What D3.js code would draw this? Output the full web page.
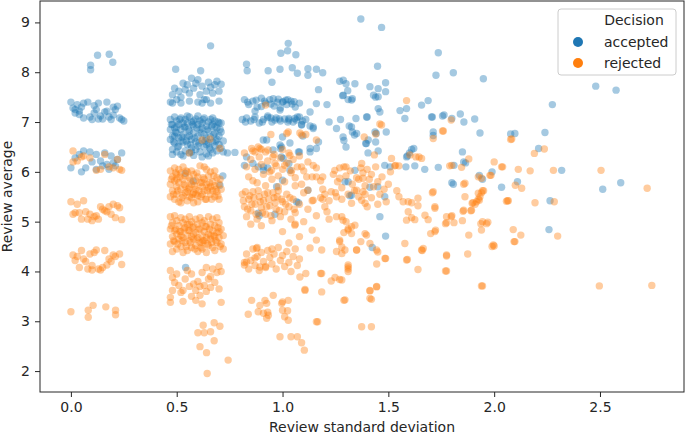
<!DOCTYPE html>
<html>
<head>
<meta charset="utf-8">
<script src="https://cdn.jsdelivr.net/npm/d3@7"></script>
<style>
  body { margin: 0; background: #fff; }
  svg { font-family: "DejaVu Sans", sans-serif; }
</style>
</head>
<body>
<script>
// chart size and plot frame
const w = 685;
const h = 434;
const marginTop = 1;
const marginRight = 1;
const marginBottom = 42;
const marginLeft = 40;

const decisions = ["accepted", "rejected"];
const colors = ["#1f77b4", "#ff7f0e"];
const xTicks = [0.0, 0.5, 1.0, 1.5, 2.0, 2.5];
const yTicks = [2, 3, 4, 5, 6, 7, 8, 9];

// [review std, review average]
const acc0 = [
  [0.126,8.34],[0.181,8.36],[0.198,8.2],[0.093,8.14],[0.093,8.05],
  [0.00,7.40],[0.01,7.28],[0.02,7.25],[0.03,7.35],[0.04,7.22],[0.05,7.30],[0.06,7.38],[0.04,7.15],
  [0.08,7.40],[0.09,7.10],[0.10,7.05],[0.11,7.33],[0.12,7.25],[0.13,7.38],[0.14,7.12],[0.15,7.06],
  [0.16,7.20],[0.17,7.40],[0.18,7.10],[0.19,7.05],[0.20,7.30],[0.21,7.25],[0.22,7.32],[0.23,7.08],
  [0.24,7.05],[0.25,7.02],[0.06,7.08],[0.02,7.18],[0.13,7.06],[0.20,7.14],[0.11,7.18],[0.17,7.22],
  [0.00,6.08],[0.02,6.28],[0.04,6.35],[0.06,6.42],[0.07,6.08],[0.09,6.40],[0.10,6.20],[0.12,6.05],
  [0.14,6.22],[0.15,6.12],[0.16,6.38],[0.18,6.05],[0.19,6.32],[0.20,6.18],[0.21,6.12],[0.22,6.25],
  [0.24,6.38],[0.12,6.35],[0.05,6.00],[0.17,6.15]
];
const acc05 = [
  [0.495,8.06],[0.613,8.03],[0.66,8.53],
  [0.47,7.40],[0.48,7.55],[0.49,7.68],[0.50,7.45],[0.51,7.62],[0.52,7.38],[0.53,7.78],[0.54,7.65],
  [0.55,7.75],[0.56,7.42],[0.57,7.88],[0.58,7.68],[0.59,7.78],[0.60,7.40],[0.61,7.55],[0.62,7.72],
  [0.63,7.45],[0.64,7.62],[0.65,7.80],[0.66,7.38],[0.67,7.58],[0.68,7.75],[0.69,7.82],[0.70,7.42],
  [0.71,7.76],[0.56,7.58],[0.60,7.85],[0.66,7.70],[0.70,7.62],[0.52,7.50],[0.48,7.38],[0.62,7.38],[0.64,7.45],
  [0.47,7.05],[0.47,6.85],[0.47,6.65],[0.48,6.95],[0.48,6.72],[0.48,6.45],[0.49,7.10],[0.49,6.88],
  [0.49,6.58],[0.50,7.02],[0.50,6.78],[0.50,6.40],[0.51,6.95],[0.51,6.68],[0.51,6.52],[0.52,7.08],
  [0.52,6.85],[0.52,6.35],[0.53,6.98],[0.53,6.75],[0.53,6.60],[0.54,7.05],[0.54,6.90],[0.54,6.42],
  [0.55,6.98],[0.55,6.70],[0.55,6.55],[0.56,7.10],[0.56,6.82],[0.56,6.38],[0.57,7.00],[0.57,6.65],
  [0.57,6.48],[0.58,6.92],[0.58,6.78],[0.58,6.33],[0.59,7.06],[0.59,6.60],[0.59,6.45],[0.60,6.95],
  [0.60,6.72],[0.60,6.52],[0.61,7.02],[0.61,6.85],[0.61,6.40],[0.62,6.98],[0.62,6.62],[0.62,6.30],
  [0.63,7.08],[0.63,6.75],[0.63,6.50],[0.64,6.92],[0.64,6.68],[0.64,6.36],[0.65,7.00],[0.65,6.82],
  [0.65,6.58],[0.66,7.05],[0.66,6.70],[0.66,6.45],[0.67,6.95],[0.67,6.60],[0.67,6.38],[0.68,7.02],
  [0.68,6.78],[0.68,6.52],[0.69,6.88],[0.69,6.65],[0.69,6.42],[0.70,6.98],[0.70,6.72],[0.70,6.55],
  [0.71,6.80],[0.71,6.48],[0.72,6.62],[0.72,6.40],[0.74,6.38],[0.775,6.39],
  [0.475,6.95],[0.485,6.60],[0.495,6.80],[0.505,6.50],[0.515,7.05],[0.525,6.70],[0.535,6.90],[0.545,6.62],
  [0.555,6.85],[0.565,6.55],[0.575,6.95],[0.585,6.68],[0.595,6.88],[0.605,6.58],[0.615,6.78],[0.625,7.05],
  [0.635,6.62],[0.645,6.85],[0.655,6.48],[0.665,6.92],[0.675,6.75],[0.685,6.62],[0.695,7.00],[0.705,6.85],
  [0.48,6.35],[0.53,6.32],[0.57,6.40],[0.65,6.32],[0.60,7.12],[0.55,7.12],[0.50,6.90],[0.58,7.02],
  [0.62,6.88],[0.67,7.08],[0.52,6.62],[0.64,6.55],[0.56,6.72],[0.68,6.90],[0.71,6.98],[0.49,6.72],
  [0.718,5.92],[0.704,5.73],[0.54,5.97],[0.578,5.81],[0.542,4.08]
];
const acc1 = [
  [1.027,8.58],[0.992,8.38],[1.024,8.43],[1.063,8.35],[0.932,8.03],[0.988,8.06],[1.046,8.09],[1.07,7.98],
  [1.12,8.07],[1.16,8.06],[1.19,7.99],[1.12,7.94],[0.95,7.80],[1.17,7.65],[1.16,7.37],[0.83,8.16],[0.833,8.03],
  [0.82,7.45],[0.84,7.35],[0.86,7.42],[0.88,7.30],[0.90,7.48],[0.92,7.38],[0.94,7.45],[0.96,7.32],
  [0.98,7.46],[1.00,7.40],[1.02,7.35],[1.04,7.42],[1.06,7.30],[1.08,7.38],[0.99,7.28],
  [0.81,7.05],[0.83,7.08],[0.85,7.02],[0.87,7.10],[0.89,6.98],[0.91,7.05],[0.93,7.12],[0.95,7.00],
  [0.97,7.08],[0.99,7.02],[1.01,7.06],[1.03,7.04],[1.05,7.00],[1.07,7.10],[1.09,6.95],[1.11,7.05],[1.13,6.92],
  [0.90,7.31],[0.87,7.22],[0.956,7.47],[1.003,7.41],[1.055,7.41],[1.058,7.07],[1.03,7.07],[1.08,7.1],
  [0.988,7.24],[0.964,7.04],[0.93,7.09],[1.09,6.94],[1.145,6.87],[1.13,7.2],[0.909,6.64],[0.988,6.54],
  [0.99,6.47],[1.13,6.47],[1.16,6.47],[1.075,6.4],[1.003,6.27],[0.885,6.1],[0.91,6.1],[0.93,6.08],
  [0.972,5.7],[1.066,5.4],
  [0.835,7.40],[0.875,7.44],[0.915,7.42],[0.945,7.36],[0.975,7.40],[1.015,7.44],[1.045,7.36],[1.025,7.45],
  [0.825,7.00],[0.865,7.05],[0.905,7.00],[0.945,7.08],[0.985,7.06],[1.025,7.00],[1.065,7.04],[1.095,7.02],
  [1.096,6.72],[1.13,6.4],[1.035,6.58],[0.995,6.5],[1.0,6.7],[0.955,6.44],[0.925,6.64],[0.83,6.3],
  [0.86,6.17],[0.82,6.13],[0.91,6.03],[0.995,6.3],[1.03,6.17],[1.035,6.03],[1.08,6.4],[1.145,6.9],[1.17,6.6],
  [1.075,5.38],[1.12,5.63],[1.0,5.83],[0.885,5.17],[0.89,5.12],[0.964,5.15]
];
const accWide = [
  [1.37,9.07],[1.468,8.9],[1.449,8.12],[1.736,8.39],[1.725,7.94],[1.807,7.99],[1.949,7.87],[2.48,7.72],
  [2.576,7.64],[2.275,7.35],
  [1.413,7.71],[1.452,7.67],[1.487,7.79],[1.487,7.61],[1.43,7.54],[1.452,7.51],[1.452,7.27],[1.46,7.2],
  [1.40,7.1],[1.586,7.27],[1.578,7.07],[1.657,7.34],[1.688,7.43],[1.704,7.1],[1.763,7.14],[1.84,7.16],
  [1.857,7.0],[1.908,7.06],[1.933,6.78],[2.078,6.76],[2.098,6.77],[2.24,6.79],[1.712,6.8],[1.712,6.73],
  [1.437,6.8],[1.49,6.8],[1.44,6.6],[1.396,6.57],[1.452,6.42],[1.61,6.45],[1.59,6.32],[1.85,6.4],
  [1.856,6.2],[1.483,6.13],[1.583,6.1],[1.625,6.12],[1.672,6.05],[1.736,6.09],[1.81,6.13],[1.865,6.18],
  [1.93,5.93],[1.945,5.85],[1.99,6.0],[2.035,5.69],[2.11,5.8],[2.21,6.47],[2.319,6.03],[2.598,5.78],
  [2.513,5.65],[2.264,5.42],[2.259,4.84],[1.807,5.75],[1.413,5.69],[1.45,5.7],[1.483,5.5],[1.46,5.1],
  [1.487,4.71],[1.424,4.48],
  [1.27,7.82],[1.30,7.77],[1.342,7.77],[1.308,7.63],[1.284,7.53],[1.31,7.45],[1.33,7.47],[1.44,7.5],
  [1.274,7.05],[1.315,6.92],[1.347,7.07],[1.397,7.1],[1.255,6.87],[1.286,6.7],[1.30,6.5],[1.29,6.63],
  [1.33,6.8],[1.34,6.74],[1.393,6.57],[1.404,6.38],[1.443,6.77],[1.586,6.3],[1.60,6.38],[1.62,6.47],
  [1.555,7.23],[1.708,7.1],[1.756,7.12],[1.80,7.07],[1.508,6.1],[1.80,5.78],[1.31,5.8],[1.318,5.52],
  [1.342,6.03],[1.295,5.8],[1.287,7.84],[1.287,7.54],[1.326,7.44],[1.326,6.9],[1.35,6.77],[1.405,6.64],
  [1.326,5.53],[1.22,7.0],[1.21,7.35]
];

const rej0 = [
  [0.01,6.42],[0.01,6.20],[0.03,6.22],[0.05,6.30],[0.06,6.32],[0.09,6.28],[0.12,6.03],[0.14,6.05],
  [0.16,6.35],[0.18,6.10],[0.20,6.08],[0.22,6.25],[0.23,6.05],[0.24,6.03],
  [0.00,5.40],[0.02,5.18],[0.03,5.35],[0.04,5.18],[0.05,5.05],[0.06,5.42],[0.07,5.20],[0.08,5.05],
  [0.09,5.15],[0.10,5.02],[0.11,5.10],[0.12,5.12],[0.14,5.30],[0.15,5.25],[0.16,5.22],[0.17,5.20],
  [0.18,5.30],[0.19,5.15],[0.20,5.35],[0.21,5.08],[0.22,5.32],[0.23,5.28],[0.24,5.04],[0.13,5.05],[0.01,5.15],
  [0.01,4.33],[0.03,4.30],[0.04,4.08],[0.05,4.42],[0.06,4.25],[0.07,4.20],[0.08,4.05],[0.09,4.35],
  [0.10,4.12],[0.10,4.03],[0.11,4.38],[0.12,4.43],[0.13,4.05],[0.14,4.03],[0.16,4.42],[0.17,4.13],
  [0.18,4.25],[0.19,4.20],[0.20,4.33],[0.21,4.30],[0.23,4.35],[0.24,4.14],[0.02,4.22],[0.15,4.08],
  [0.0,3.19],[0.082,3.22],[0.082,3.08],[0.105,3.32],[0.165,3.29],[0.211,3.22],[0.211,3.13]
];
const rej05 = [
  [0.657,6.66],[0.704,6.47],[0.62,6.64],[0.56,6.38],
  [0.47,6.02],[0.47,5.75],[0.47,5.50],[0.48,5.90],[0.48,5.62],[0.49,6.08],[0.49,5.82],[0.49,5.45],
  [0.50,5.95],[0.50,5.70],[0.50,5.55],[0.51,6.05],[0.51,5.78],[0.51,5.40],[0.52,5.98],[0.52,5.65],
  [0.53,6.10],[0.53,5.85],[0.53,5.52],[0.54,5.92],[0.54,5.72],[0.55,6.00],[0.55,5.60],[0.55,5.42],
  [0.56,5.88],[0.56,5.68],[0.57,6.02],[0.57,5.75],[0.57,5.48],[0.58,5.95],[0.58,5.58],[0.59,5.82],
  [0.59,5.65],[0.60,5.90],[0.60,5.52],[0.60,5.40],[0.61,6.12],[0.61,5.78],[0.62,5.70],[0.62,5.55],
  [0.63,5.85],[0.63,5.62],[0.64,6.05],[0.64,5.75],[0.64,5.45],[0.65,5.92],[0.65,5.68],[0.66,6.00],
  [0.66,5.55],[0.67,5.80],[0.67,5.62],[0.68,5.72],[0.68,5.50],[0.69,5.88],[0.69,5.60],[0.70,5.75],
  [0.70,5.45],[0.71,5.65],[0.63,6.10],[0.68,6.02],[0.52,5.38],[0.58,5.38],
  [0.475,5.85],[0.485,5.55],[0.495,5.98],[0.505,5.62],[0.515,5.90],[0.525,5.48],[0.535,5.75],[0.545,6.02],
  [0.555,5.65],[0.565,5.82],[0.575,5.55],[0.585,5.72],[0.595,5.98],[0.605,5.62],[0.615,5.50],[0.625,5.88],
  [0.635,5.45],[0.645,5.62],[0.655,5.78],[0.665,5.45],[0.675,5.92],[0.685,5.65],[0.695,5.52],[0.705,5.85],
  [0.50,5.85],[0.56,5.50],[0.62,5.78],[0.66,5.70],[0.54,5.58],[0.59,5.55],
  [0.47,5.10],[0.47,4.85],[0.47,4.55],[0.48,4.98],[0.48,4.70],[0.48,4.40],[0.49,5.12],[0.49,4.82],
  [0.49,4.60],[0.50,5.02],[0.50,4.75],[0.50,4.45],[0.51,4.92],[0.51,4.65],[0.52,5.08],[0.52,4.80],
  [0.52,4.50],[0.53,4.98],[0.53,4.68],[0.53,4.38],[0.54,5.05],[0.54,4.88],[0.54,4.58],[0.55,4.95],
  [0.55,4.72],[0.55,4.42],[0.56,5.10],[0.56,4.82],[0.56,4.62],[0.57,5.00],[0.57,4.70],[0.57,4.48],
  [0.58,4.90],[0.58,4.65],[0.59,5.05],[0.59,4.78],[0.59,4.52],[0.60,4.95],[0.60,4.68],[0.60,4.40],
  [0.61,5.08],[0.61,4.85],[0.61,4.58],[0.62,4.98],[0.62,4.72],[0.62,4.45],[0.63,5.02],[0.63,4.80],
  [0.63,4.62],[0.64,4.90],[0.64,4.68],[0.64,4.38],[0.65,5.10],[0.65,4.75],[0.65,4.52],[0.66,4.95],
  [0.66,4.65],[0.67,5.05],[0.67,4.82],[0.67,4.48],[0.68,4.92],[0.68,4.70],[0.68,4.42],[0.69,5.08],
  [0.69,4.78],[0.69,4.58],[0.70,4.98],[0.70,4.68],[0.71,4.85],[0.71,4.55],[0.72,4.72],[0.72,4.45],
  [0.475,4.92],[0.485,4.62],[0.495,4.85],[0.505,4.55],[0.515,4.80],[0.525,4.62],[0.535,4.85],[0.545,4.50],
  [0.555,4.82],[0.565,4.58],[0.575,4.88],[0.585,4.45],[0.595,4.65],[0.605,4.85],[0.615,4.48],[0.625,4.62],
  [0.635,4.90],[0.645,4.55],[0.655,4.85],[0.665,4.58],[0.675,4.72],[0.685,4.62],[0.695,4.88],[0.705,4.50],
  [0.58,4.75],[0.62,4.58],[0.66,4.72],[0.52,4.72],[0.56,4.95],[0.70,4.80],
  [0.47,4.02],[0.48,3.88],[0.49,3.78],[0.48,3.62],[0.47,3.48],[0.47,3.38],[0.50,3.95],[0.51,3.72],
  [0.52,3.58],[0.53,3.40],[0.54,3.85],[0.55,4.02],[0.56,3.70],[0.57,3.95],[0.57,3.50],[0.58,3.75],
  [0.59,3.62],[0.59,3.42],[0.60,3.80],[0.61,3.70],[0.61,3.52],[0.62,3.98],[0.62,3.35],[0.63,3.72],
  [0.64,4.08],[0.64,3.60],[0.65,3.85],[0.66,3.90],[0.67,4.05],[0.68,3.78],[0.69,3.98],[0.70,4.10],
  [0.71,4.00],[0.70,3.65],[0.71,3.38],[0.66,3.68],[0.53,3.62],
  [0.625,2.92],[0.60,2.77],[0.63,2.77],[0.66,2.79],[0.677,2.97],[0.704,2.90],[0.677,2.61],[0.61,2.49],
  [0.641,2.37],[0.743,2.22],[0.644,1.95]
];
const rej1 = [
  [0.92,7.34],[0.945,6.75],[1.02,6.77],[1.09,6.74],[1.16,6.64],[0.854,6.47],[0.87,6.4],[0.955,6.3],
  [1.035,6.33],[1.082,6.78],[1.11,6.75],[1.027,6.8],[0.893,6.47],
  [0.82,6.38],[0.83,6.10],[0.84,5.90],[0.85,6.25],[0.86,6.42],[0.87,6.05],[0.88,5.78],[0.89,6.30],
  [0.90,6.15],[0.91,5.95],[0.92,6.40],[0.93,6.22],[0.94,6.00],[0.95,5.85],[0.96,6.35],[0.97,6.12],
  [0.98,5.92],[0.99,6.28],[1.00,6.05],[1.01,5.80],[1.02,6.18],[1.03,6.38],[1.04,5.98],[1.05,6.25],
  [1.06,5.88],[1.07,6.10],[1.08,6.32],[1.09,5.75],[1.10,6.02],[1.12,6.20],[1.14,5.90],[1.16,6.08],
  [1.18,5.82],[0.86,5.82],[0.92,5.72],[0.98,5.70],[1.06,5.72],[0.90,6.45],[1.00,6.45],
  [0.885,6.5],[0.932,6.44],[0.964,6.17],[0.948,6.03],[1.01,6.13],[1.043,6.03],[1.09,6.1],[1.114,5.9],
  [1.145,6.13],[1.16,5.9],[1.19,5.9],[1.12,5.63],[1.145,5.43],[1.19,5.45],
  [0.81,5.55],[0.82,5.30],[0.83,5.10],[0.84,5.45],[0.85,5.22],[0.86,5.60],[0.87,5.35],[0.88,5.05],
  [0.89,5.50],[0.90,5.28],[0.91,5.42],[0.92,5.15],[0.93,5.58],[0.94,5.32],[0.95,5.02],[0.96,5.48],
  [0.97,5.25],[0.98,5.62],[0.99,5.10],[1.00,5.40],[1.01,5.20],[1.02,5.55],[1.03,5.30],[1.04,5.05],
  [1.05,5.45],[1.06,5.18],[1.08,5.35],[1.10,5.58],[1.12,5.25],[1.14,5.42],[1.16,5.12],[1.18,5.48],
  [1.20,5.30],[0.85,4.95],[0.90,4.92],[1.06,4.95],
  [0.815,5.42],[0.825,5.60],[0.835,5.25],[0.845,5.52],[0.855,5.35],[0.865,5.48],[0.875,5.15],[0.885,5.62],
  [0.895,5.40],[0.905,5.18],[0.915,5.55],[0.925,5.30],[0.935,5.45],[0.945,5.12],[0.955,5.58],[0.965,5.38],
  [0.975,5.50],[0.985,5.22],[0.995,5.45],[1.015,5.35],[1.035,5.48],[1.055,5.25],
  [1.058,4.93],[1.1,5.0],[1.14,4.83],[1.16,4.63],[1.13,4.47],[1.185,4.43],[1.08,4.70],[1.03,4.57],[1.00,4.80],
  [0.82,4.18],[0.83,4.35],[0.84,4.05],[0.85,4.22],[0.86,4.45],[0.87,4.12],[0.88,4.30],[0.89,4.02],
  [0.90,4.38],[0.91,4.20],[0.92,4.08],[0.93,4.42],[0.94,4.28],[0.95,4.15],[0.96,4.35],[0.97,4.05],
  [0.98,4.48],[0.99,4.22],[1.00,4.32],[1.01,4.10],[1.02,4.40],[1.03,4.18],[1.04,4.00],[1.05,4.30],
  [1.06,4.45],[1.07,4.12],[1.08,4.25],[0.88,4.48],[0.95,4.45],
  [0.877,4.46],[0.83,4.19],[0.82,4.13],[0.87,4.27],[0.893,4.09],[0.92,4.1],
  [1.082,3.89],[1.11,3.96],[1.106,3.62],[1.18,3.96],[1.185,3.59],[0.854,3.42],[0.838,3.14],[0.93,3.18],
  [0.925,3.36],[0.956,3.52],[0.933,3.12],[1.0,3.39],[1.027,3.42],[1.01,3.09],[1.027,3.02],[1.0,3.22],
  [0.988,2.69],[1.04,2.69],[1.07,2.69],[1.09,2.57],[1.103,2.42],[1.166,2.99],[0.917,3.42],[0.91,3.16],
  [0.925,3.06],[0.885,3.19],[0.996,3.36],[1.024,3.21],[0.893,3.32]
];
const rejWide = [
  [1.586,7.43],[1.797,7.04],[1.76,6.82],[1.712,6.67],[2.078,6.65],[1.88,6.26],[1.79,6.12],[1.846,6.09],
  [2.0,6.2],[2.035,6.1],[1.985,5.93],[1.94,5.87],[1.856,5.75],[1.94,5.58],[1.933,5.5],[1.917,5.4],
  [1.90,5.38],[1.862,5.5],[2.063,5.42],[1.46,6.96],[1.44,6.76],[1.515,6.27],[1.53,6.12],[1.657,6.27],
  [1.63,6.3],[1.602,6.34],[1.468,6.94],[1.386,6.7],[1.434,6.34],[1.55,6.12],[1.645,6.3],[1.756,6.82],
  [1.708,5.58],
  [1.40,6.05],[1.41,5.85],[1.42,5.95],[1.43,5.70],[1.44,6.10],[1.45,5.80],[1.46,5.55],[1.47,5.90],
  [1.48,5.65],[1.49,5.40],[1.50,5.75],[1.51,6.00],[1.42,5.48],[1.45,5.35],[1.38,5.60],[1.40,5.30],
  [1.36,5.85],[1.37,6.08],
  [1.54,5.62],[1.55,5.5],[1.64,5.47],[1.72,5.3],[1.57,5.4],[1.61,5.38],[1.534,6.13],[1.712,5.6],
  [1.594,5.4],[1.64,5.32],[1.72,5.27],[1.594,5.2],[1.625,5.04],[1.61,5.08],[1.586,5.03],[1.673,5.13],
  [1.688,5.04],[1.775,5.1],[1.80,5.12],[1.775,4.98],[1.81,4.98],[1.85,5.02],[1.856,5.23],[1.89,5.22],
  [1.896,5.37],[1.93,5.43],[1.925,5.57],[1.95,5.62],[1.945,5.0],[1.97,4.99],[1.94,4.83],[2.067,5.42],
  [2.09,4.84],[2.094,4.6],[1.723,4.83],[1.70,4.76],[1.88,4.73],[1.996,4.53],[1.665,4.46],[1.66,4.42],
  [1.775,4.33],[1.875,4.35],[1.59,4.24],[1.64,4.04],[1.77,4.01],[1.94,3.71],[1.445,3.70],[1.413,3.61],
  [1.413,3.46],[1.487,4.26],[1.445,4.15],[1.45,4.39],
  [2.19,6.37],[2.237,6.46],[2.083,6.66],[1.8,6.13],[2.04,6.1],[2.114,6.05],[2.17,6.02],[2.28,6.03],
  [2.505,6.03],[2.723,5.67],[1.862,5.77],[1.925,5.9],[1.98,5.93],[1.945,5.62],[1.925,5.45],[1.91,5.35],
  [1.893,5.23],[1.853,5.21],[2.058,5.41],[2.10,5.73],[2.13,5.67],[2.193,5.38],[2.284,5.4],
  [1.797,5.1],[1.77,4.96],[1.937,4.96],[1.964,4.96],[2.126,4.73],[2.098,4.6],[2.30,4.71],[2.0,4.51],
  [1.99,4.5],[1.775,4.31],[1.775,4.01],[1.945,3.71],[2.497,3.71],[2.745,3.72],
  [1.255,5.1],[1.286,5.03],[1.31,4.86],[1.326,4.76],[1.29,4.78],[1.342,4.93],[1.27,4.6],[1.295,4.43],
  [1.255,4.4],[1.31,4.13],[1.31,4.05],[1.35,4.43],[1.37,4.6],[1.397,4.73],[1.413,4.56],[1.444,4.43],
  [1.484,4.26],[1.248,3.88],[1.28,3.83],[1.295,3.43],[1.444,3.69],[1.42,3.44],[1.374,2.89],[1.42,2.89],
  [1.586,4.23],[1.657,4.43],[1.578,4.56],[1.72,4.8],
  [1.24,5.95],[1.26,5.80],[1.27,6.08],[1.28,5.68],[1.30,5.92],[1.31,5.55],[1.32,6.02],[1.33,5.75],
  [1.34,5.62],[1.35,5.88],[1.36,5.50],[1.38,5.98],[1.39,5.72],[1.30,6.10],[1.25,5.58],[1.28,5.45],
  [1.20,5.55],[1.22,5.42],[1.21,5.20],[1.23,5.60],[1.19,5.65],[1.22,5.05],
  [1.255,5.5],[1.326,5.37],[1.374,5.43],[1.39,5.37],[1.28,5.1],[1.30,5.0],[1.326,4.9],[1.31,4.83],
  [1.39,4.76],[1.27,4.63],[1.28,4.49],[1.28,4.36],[1.35,4.43],[1.31,4.09],[1.31,4.0],[1.23,3.81],
  [1.27,3.84],[1.185,3.96],[1.106,3.64],[1.29,3.42],[1.413,3.62],[1.16,2.99],
  [1.247,6.03],[1.27,5.87],[1.29,6.1],[1.374,6.17],[1.38,5.87],[1.35,5.63],[1.39,5.55]
];

const accepted = [...acc0, ...acc05, ...acc1, ...accWide];
const rejected = [...rej0, ...rej05, ...rej1, ...rejWide];

const xScale = d3.scaleLinear()
  .domain([-0.146, 2.897])
  .range([marginLeft, w - marginRight]);
const yScale = d3.scaleLinear()
  .domain([1.58, 9.43])
  .range([h - marginBottom, marginTop]);

const svg = d3.select("body")
  .append("svg")
  .attr("width", w)
  .attr("height", h);

// points: accepted first, rejected on top
[accepted, rejected].forEach((set, i) => {
  svg.append("g")
    .selectAll("circle")
    .data(set)
    .enter()
    .append("circle")
    .attr("cx", (d) => xScale(d[0]))
    .attr("cy", (d) => yScale(d[1]))
    .attr("r", 3.7)
    .attr("fill", colors[i])
    .attr("fill-opacity", 0.4);
});

// frame
svg.append("rect")
  .attr("x", marginLeft)
  .attr("y", marginTop)
  .attr("width", w - marginRight - marginLeft)
  .attr("height", h - marginBottom - marginTop)
  .attr("fill", "none")
  .attr("stroke", "#262626")
  .attr("stroke-width", 1);

const styleAxis = (g) => {
  g.select(".domain").remove();
  g.selectAll(".tick line").attr("stroke", "#262626");
  g.selectAll(".tick text")
    .attr("fill", "#262626")
    .attr("font-size", "14px")
    .attr("font-family", "DejaVu Sans, sans-serif");
};

svg.append("g")
  .attr("transform", `translate(0,${h - marginBottom})`)
  .call(d3.axisBottom(xScale).tickValues(xTicks).tickFormat(d3.format(".1f")).tickSize(5).tickPadding(5))
  .call(styleAxis);

svg.append("g")
  .attr("transform", `translate(${marginLeft},0)`)
  .call(d3.axisLeft(yScale).tickValues(yTicks).tickFormat(d3.format("d")).tickSize(5).tickPadding(5))
  .call(styleAxis);

svg.append("text")
  .attr("x", (marginLeft + w - marginRight) / 2)
  .attr("y", 432)
  .attr("text-anchor", "middle")
  .attr("font-size", "14px")
  .attr("fill", "#262626")
  .text("Review standard deviation");

svg.append("text")
  .attr("transform", `translate(12,${(marginTop + h - marginBottom) / 2}) rotate(-90)`)
  .attr("text-anchor", "middle")
  .attr("font-size", "14px")
  .attr("fill", "#262626")
  .text("Review average");

// legend
const legend = svg.append("g").attr("transform", "translate(558,9)");
legend.append("rect")
  .attr("width", 118)
  .attr("height", 66)
  .attr("rx", 3)
  .attr("fill", "#fff")
  .attr("fill-opacity", 0.8)
  .attr("stroke", "#cccccc");
legend.append("text")
  .attr("x", 76)
  .attr("y", 16)
  .attr("text-anchor", "middle")
  .attr("font-size", "14px")
  .attr("fill", "#262626")
  .text("Decision");
decisions.forEach((name, i) => {
  legend.append("circle")
    .attr("cx", 20)
    .attr("cy", 33 + i * 21)
    .attr("r", 5)
    .attr("fill", colors[i]);
  legend.append("text")
    .attr("x", 46)
    .attr("y", 38 + i * 21)
    .attr("font-size", "14px")
    .attr("fill", "#262626")
    .text(name);
});
</script>
</body>
</html>
